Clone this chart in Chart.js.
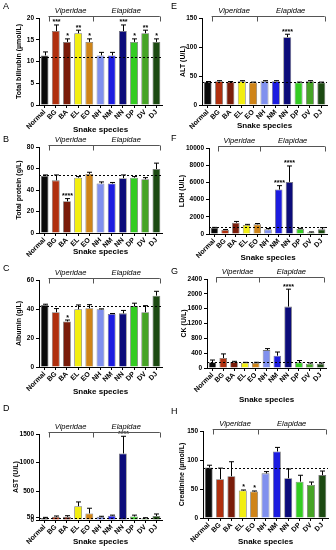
<!DOCTYPE html>
<html>
<head>
<meta charset="utf-8">
<script src="https://cdn.jsdelivr.net/npm/chart.js@4.4.1/dist/chart.umd.min.js"></script>
<style>
  html, body { margin: 0; padding: 0; background: #fff; overflow: hidden; }
  #fig { position: relative; width: 336px; height: 550px; overflow: hidden; font-family: "Liberation Sans", Arial, sans-serif; }
  #fig canvas { position: absolute; }
  .letter { position: absolute; font-size: 9px; color: #000; }
</style>
</head>
<body>
<div id="fig"></div>
<script>
// categories and bar colours
const species = ["Normal", "BG", "BA", "EL", "EO", "NH", "NM", "NN", "DP", "DV", "DJ"];
const speciesColors = ["#0a0a0a", "#b0300f", "#7a1c0a", "#f2ee10", "#cf8418", "#8090ee", "#1c1ce0", "#0c0c7a", "#34cc22", "#46a426", "#1c4a12"];

// A: total bilirubin (umol/L)
const bilirubinMean = [11.4, 17.0, 14.5, 16.5, 14.5, 11.4, 11.4, 17.0, 14.5, 16.5, 14.5];
const bilirubinSem = [0.8, 1.4, 0.7, 0.7, 0.7, 0.7, 0.7, 1.4, 0.7, 0.7, 0.7];
const bilirubinStars = ["", "***", "*", "**", "*", "", "", "***", "*", "**", "*"];
const bilirubinNormal = 11.1;

// B: total protein (g/L)
const proteinMean = [53, 49, 29.5, 51.5, 55, 46, 46, 51, 51.5, 50, 59.5];
const proteinSem = [1, 5, 2.5, 1, 1.5, 1.5, 1, 3, 1, 1.5, 5.5];
const proteinStars = ["", "", "****", "", "", "", "", "", "", "", ""];
const proteinNormal = 54;

// C: albumin (g/L)
const albuminMean = [42.8, 37.8, 31.4, 39.8, 40.5, 39.8, 36.6, 37, 42, 37.8, 49.2];
const albuminSem = [0.5, 2.5, 1, 3, 2.5, 0.3, 0.3, 2, 2, 4.5, 3];
const albuminStars = ["", "", "*", "", "", "", "", "", "", "", ""];
const albuminNormal = 42.4;

// D: AST (U/L)
const astMean = [36, 55, 55, 240, 115, 55, 75, 1160, 60, 30, 70];
const astSem = [10, 15, 20, 75, 90, 10, 10, 300, 25, 10, 35];
const astStars = ["", "", "", "", "", "", "", "****", "", "", ""];
const astNormal = 36;
const astTicks = [0, 50, 500, 1000, 1500];

// E: ALT (U/L)
const altMean = [40, 41, 40, 41, 39, 41, 41, 117, 39, 41, 39];
const altSem = [0.5, 1, 0.5, 1, 0.5, 1, 1, 5, 0.5, 1, 0.5];
const altStars = ["", "", "", "", "", "", "", "****", "", "", ""];
const altNormal = 40;

// F: LDH (U/L)
const ldhMean = [730, 460, 1310, 1040, 1120, 540, 5170, 6060, 580, 190, 540];
const ldhSem = [40, 60, 150, 80, 100, 100, 450, 1850, 80, 50, 200];
const ldhStars = ["", "", "", "", "", "", "****", "****", "", "", ""];
const ldhNormal = 770;

// G: CK (U/L)
const ckMean = [155, 270, 160, 143, 134, 483, 331, 1656, 152, 116, 116];
const ckSem = [60, 110, 20, 10, 20, 40, 100, 470, 50, 20, 20];
const ckStars = ["", "", "", "", "", "", "", "****", "", "", ""];
const ckNormal = 152;

// H: creatinine (umol/L)
const creatMean = [87, 67, 72, 47.3, 45.6, 77, 114.7, 68.5, 62.7, 57, 74];
const creatSem = [4, 19, 25, 1, 1, 3, 7, 16, 11, 5, 7];
const creatStars = ["", "", "", "*", "*", "", "", "", "", "", ""];
const creatNormal = 87;

const families = ["Viperidae", "Elapidae"];
const xTitle = "Snake species";

Chart.defaults.font.family = '"Liberation Sans", Arial, sans-serif';
Chart.defaults.color = "#000";

// where each panel sits in the 336x550 figure
const panels = [
  { letter: "A", left: 0,   axisX: 39,  right: 162, top: 18,  bottom: 105, ss: 130, titleX: 19,  letterY: 1,
    yTitle: "Total bilirubin (\u00b5mol/L)", max: 20, step: 5, mean: bilirubinMean, sem: bilirubinSem, stars: bilirubinStars, ref: bilirubinNormal },
  { letter: "B", left: 0,   axisX: 39,  right: 162, top: 147, bottom: 233, ss: 252, titleX: 19,  letterY: 134,
    yTitle: "Total protein (g/L)", max: 80, step: 20, mean: proteinMean, sem: proteinSem, stars: proteinStars, ref: proteinNormal },
  { letter: "C", left: 0,   axisX: 39,  right: 162, top: 280, bottom: 367, ss: 392, titleX: 19,  letterY: 263,
    yTitle: "Albumin (g/L)", max: 60, step: 20, mean: albuminMean, sem: albuminSem, stars: albuminStars, ref: albuminNormal },
  { letter: "D", left: 0,   axisX: 39,  right: 162, top: 434, bottom: 520, ss: 542, titleX: 16,  letterY: 403,
    yTitle: "AST (U/L)", max: 1500, ticks: astTicks, mean: astMean, sem: astSem, stars: astStars, ref: astNormal },
  { letter: "E", left: 168, axisX: 202, right: 327, top: 18,  bottom: 105, ss: 126, titleX: 183, letterY: 1,
    yTitle: "ALT (U/L)", max: 150, step: 50, mean: altMean, sem: altSem, stars: altStars, ref: altNormal },
  { letter: "F", left: 168, axisX: 209, right: 327, top: 148, bottom: 234, ss: 258, titleX: 182, letterY: 133,
    yTitle: "LDH (U/L)", max: 10000, step: 2000, mean: ldhMean, sem: ldhSem, stars: ldhStars, ref: ldhNormal },
  { letter: "G", left: 168, axisX: 207, right: 326, top: 279, bottom: 368, ss: 400, titleX: 184, letterY: 266,
    yTitle: "CK (U/L)", max: 2400, step: 400, mean: ckMean, sem: ckSem, stars: ckStars, ref: ckNormal },
  { letter: "H", left: 168, axisX: 203, right: 328, top: 431, bottom: 518, ss: 542, titleX: 182, letterY: 406,
    yTitle: "Creatinine (\u00b5mol/L)", max: 150, step: 50, mean: creatMean, sem: creatSem, stars: creatStars, ref: creatNormal }
];

const fig = document.getElementById("fig");
const CANVAS_W = 168, CANVAS_H = 150, PAD_TOP = 18;

// error bars, significance stars, normal-range dashed line and family brackets
function decor(p) {
  return {
    id: "decor" + p.letter,
    afterDatasetsDraw(chart) {
      const ctx = chart.ctx, xs = chart.scales.x, ys = chart.scales.y, area = chart.chartArea;
      ctx.save();
      ctx.strokeStyle = "#000";
      ctx.fillStyle = "#000";
      ctx.lineWidth = 1;
      p.mean.forEach((m, i) => {
        const px = Math.round(xs.getPixelForValue(i)) + 0.5;
        const yTop = ys.getPixelForValue(m + p.sem[i]);
        const yBar = ys.getPixelForValue(m);
        ctx.beginPath();
        ctx.moveTo(px, yBar);
        ctx.lineTo(px, yTop);
        ctx.moveTo(px - 2.5, yTop);
        ctx.lineTo(px + 2.5, yTop);
        ctx.stroke();
        if (p.stars[i]) {
          ctx.font = "bold 7px " + Chart.defaults.font.family;
          ctx.textAlign = "center";
          ctx.textBaseline = "alphabetic";
          ctx.fillText(p.stars[i], px, yTop - 0.5);
        }
      });
      // normal reference line
      const yr = Math.round(ys.getPixelForValue(p.ref)) + 0.5;
      ctx.setLineDash([2, 2]);
      ctx.beginPath();
      ctx.moveTo(area.left, yr);
      ctx.lineTo(area.right, yr);
      ctx.stroke();
      ctx.setLineDash([]);
      ctx.restore();
    },
    afterDraw(chart) {
      const ctx = chart.ctx, xs = chart.scales.x, area = chart.chartArea;
      const cat = xs.getPixelForValue(1) - xs.getPixelForValue(0);
      const by = Math.round(area.top) - 1.5;
      const x0 = xs.getPixelForValue(1) - 0.65 * cat;
      const x1 = xs.getPixelForValue(4) + 0.3 * cat;
      const x2 = xs.getPixelForValue(10) + 0.3 * cat;
      ctx.save();
      ctx.strokeStyle = "#555";
      ctx.lineWidth = 1;
      ctx.beginPath();
      [x0, x1, x2].forEach(xx => {
        const rx = Math.round(xx) + 0.5;
        ctx.moveTo(rx, by);
        ctx.lineTo(rx, by + 5);
      });
      ctx.moveTo(x0, by);
      ctx.lineTo(x2, by);
      ctx.stroke();
      ctx.fillStyle = "#000";
      ctx.font = "italic 7.5px " + Chart.defaults.font.family;
      ctx.textAlign = "center";
      ctx.textBaseline = "middle";
      ctx.fillText(families[0], (x0 + x1) / 2, by - 6);
      ctx.fillText(families[1], (x1 + x2) / 2, by - 6);
      ctx.restore();
    }
  };
}

panels.forEach(p => {
  const canvasTop = p.top - PAD_TOP;
  const boxBottom = p.ss + 4.8;
  const xAxisH = boxBottom - p.bottom;
  const padBottom = canvasTop + CANVAS_H - boxBottom;
  const yAxisW = p.axisX - p.left;

  const cv = document.createElement("canvas");
  cv.width = CANVAS_W;
  cv.height = CANVAS_H;
  cv.style.left = p.left + "px";
  cv.style.top = canvasTop + "px";
  fig.appendChild(cv);

  const lt = document.createElement("div");
  lt.className = "letter";
  lt.textContent = p.letter;
  lt.style.left = (p.left + 3) + "px";
  lt.style.top = p.letterY + "px";
  fig.appendChild(lt);

  const yTicks = { font: { size: 6.5, weight: "bold" }, padding: 2, autoSkip: false, callback: v => String(v) };
  if (p.step) yTicks.stepSize = p.step;

  new Chart(cv, {
    type: "bar",
    data: {
      labels: species,
      datasets: [{
        data: p.mean,
        backgroundColor: speciesColors,
        borderColor: "rgba(0,0,0,0.55)",
        borderWidth: 0.8,
        barPercentage: 0.7,
        categoryPercentage: 1
      }]
    },
    options: {
      responsive: false,
      animation: false,
      devicePixelRatio: 1,
      layout: { padding: { top: PAD_TOP, bottom: padBottom, left: 0, right: p.left + CANVAS_W - p.right } },
      plugins: { legend: { display: false }, tooltip: { enabled: false } },
      scales: {
        x: {
          grid: { display: true, drawOnChartArea: false, offset: false, tickLength: 3, color: "#000" },
          border: { display: true, color: "#000", width: 1 },
          ticks: { font: { size: 7, weight: "bold" }, minRotation: 45, maxRotation: 45, autoSkip: false, padding: 0 },
          title: { display: true, text: xTitle, font: { size: 8, weight: "bold" }, padding: 0 },
          afterFit(s) { s.height = xAxisH; s.paddingLeft = 0; s.paddingRight = 0; }
        },
        y: {
          min: 0,
          max: p.max,
          grid: { display: true, drawOnChartArea: false, tickLength: 3, color: "#000" },
          border: { display: true, color: "#000", width: 1 },
          ticks: yTicks,
          title: { display: true, text: p.yTitle, font: { size: 7, weight: "bold" }, padding: { top: p.titleX - p.left - 4.2, bottom: 0 } },
          afterBuildTicks(s) { if (p.ticks) s.ticks = p.ticks.map(v => ({ value: v })); },
          afterFit(s) { s.width = yAxisW; s.paddingTop = 0; s.paddingBottom = 0; }
        }
      }
    },
    plugins: [decor(p)]
  });
});
</script>
</body>
</html>
